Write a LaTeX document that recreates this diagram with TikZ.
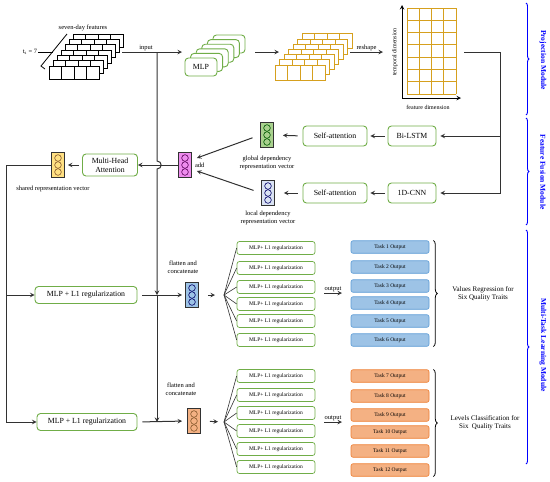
\documentclass[tikz,border=0pt]{standalone}
\usepackage{fontspec}
\setmainfont{Liberation Serif}
\usetikzlibrary{arrows, positioning, calc, decorations.pathreplacing}
\definecolor{mlpgreen}{RGB}{112,173,71}
\definecolor{gold}{RGB}{214,160,30}
\definecolor{taskblue}{RGB}{157,195,230}
\definecolor{taskblueline}{RGB}{91,155,213}
\definecolor{taskorange}{RGB}{244,177,131}
\definecolor{taskorangeline}{RGB}{237,125,49}
\definecolor{modblue}{RGB}{0,0,255}
\definecolor{linegray}{RGB}{50,50,50}
\definecolor{vgreen}{RGB}{169,209,142}
\definecolor{vlocal}{RGB}{218,227,243}
\definecolor{vadd}{RGB}{238,140,238}
\definecolor{vyellow}{RGB}{255,224,130}

\begin{document}
\begin{tikzpicture}[x=1pt,y=-1pt,
  gbox/.style={draw=mlpgreen,line width=0.9pt,rounded corners=3.5pt,fill=white,align=center,inner sep=1pt,font=\fontsize{7.8}{8.8}\selectfont},
  sbox/.style={draw=mlpgreen,line width=0.7pt,rounded corners=2.5pt,minimum width=78pt,minimum height=13pt,inner sep=0pt,font=\fontsize{5.5}{6}\selectfont},
  tbox/.style={draw=taskblueline,fill=taskblue,line width=0.6pt,rounded corners=2pt,minimum width=78pt,minimum height=12.5pt,inner sep=0pt,font=\fontsize{5.5}{6}\selectfont},
  obox/.style={tbox,draw=taskorangeline,fill=taskorange},
  vec/.style={draw=linegray,line width=0.8pt,minimum width=13pt,minimum height=25pt,inner sep=0pt},
  lbl/.style={font=\fontsize{6.5}{7.5}\selectfont,align=center,inner sep=1pt},
  conn/.style={draw=linegray,line width=1pt},
  arr/.style={conn,->,>=stealth},
  modbrace/.style={draw=modblue,line width=0.9pt,decorate,decoration={brace,amplitude=3pt}},
  modtext/.style={text=modblue,font=\fontsize{7.5}{9}\selectfont\bfseries,rotate=-90}
]
\useasboundingbox (0,0) rectangle (550,482);

% ---- projection module ----
\foreach \k in {6,5,...,0}{
  \draw[line width=0.8pt,fill=white] (49+4*\k,66-5.3*\k) rectangle ++(50,13);
  \foreach \c in {1,2,3} \draw[line width=0.8pt] (49+4*\k+12.5*\c,66-5.3*\k) -- ++(0,13);
}
\node[lbl] (seven) at (83,28) {seven-day features};
\node[lbl] (ts) at (30,52) {t\textsubscript{s} = 7};
\draw[line width=0.8pt] (45,69) -- (41,66) -- (67,34);
\draw[line width=0.8pt] (ts.east) -- (53,52);

\foreach \k in {5,4,...,1}
  \draw[draw=mlpgreen,line width=0.9pt,rounded corners=3.5pt,fill=white] (185+5.6*\k,58-4.6*\k) rectangle ++(32,18);
\node[gbox,minimum width=32pt,minimum height=18pt] (mlp) at (201,67) {MLP};

\foreach \k in {6,5,...,0}{
  \draw[gold,line width=0.8pt,fill=white] (275+4.5*\k,65-5.2*\k) rectangle ++(50,15);
  \foreach \c in {1,2,3} \draw[gold,line width=0.8pt] (275+4.5*\k+12.5*\c,65-5.2*\k) -- ++(0,15);
}

\foreach \c in {0,...,4} \draw[gold,line width=0.9pt] (407+12.25*\c,8) -- (407+12.25*\c,94);
\foreach \r in {0,...,7} \draw[gold,line width=0.9pt] (407,8+12.29*\r) -- (456,8+12.29*\r);
\coordinate (origin) at (402,98);
\draw[arr,draw=black] (origin) -- (402,5);
\draw[arr,draw=black] (origin) -- (461,98);
\node[lbl,rotate=90,font=\fontsize{6}{7}\selectfont] (tdim) at (395,52) {temporal dimension};
\node[lbl,font=\fontsize{6}{7}\selectfont] (fdim) at (428,107) {feature dimension};

\coordinate (featout) at (122,52);
\coordinate (tap) at (157,52);
\coordinate (mlpin) at (182,52);
\coordinate (mlpout) at (255,52);
\coordinate (yin) at (279,52);
\coordinate (yout) at (350,52);
\coordinate (gin) at (383,52);
\coordinate (gridout) at (464,52);
\coordinate (bus) at (500,52);
\draw[arr] (featout) -- node[lbl,above,pos=0.4] {input} (mlpin);
\draw[arr] (mlpout) -- (yin);
\draw[arr] (yout) -- node[lbl,above] {reshape} (gin);

% ---- feature fusion module ----
\node[gbox,minimum width=48pt,minimum height=20pt] (lstm) at (412,136) {Bi-LSTM};
\node[gbox,minimum width=48pt,minimum height=20pt] (cnn) at (412,193) {1D-CNN};
\node[gbox,minimum width=64pt,minimum height=20pt] (sa1) at (335,136) {Self-attention};
\node[gbox,minimum width=64pt,minimum height=20pt] (sa2) at (335,193) {Self-attention};
\node[vec,fill=vgreen] (gvec) at (267,135) {};
\node[vec,fill=vlocal] (lvec) at (268,193) {};
\node[vec,fill=vadd] (addv) at (185,165) {};
\node[gbox,minimum width=55pt,minimum height=22pt] (mha) at (110,165) {Multi-Head\\Attention};
\node[vec,fill=vyellow] (shv) at (58,165) {};
\node[lbl,right=2pt of addv] (addl) {add};
\node[lbl] (gl) at (267,163) {global dependency\\representation vector};
\node[lbl] (ll) at (268,218) {local dependency\\representation vector};
\node[lbl] (sl) at (53,189) {shared representation vector};

\draw[arr,shorten >=4pt] (gridout) -- (bus) |- (cnn.east);
\draw[arr,shorten >=4pt] (bus |- lstm.east) -- (lstm.east);
\draw[arr,shorten <=3pt,shorten >=3pt] (lstm.west) -- (sa1.east);
\draw[arr,shorten <=3pt,shorten >=3pt] (cnn.west) -- (sa2.east);
\draw[arr,shorten <=5pt,shorten >=9pt] (sa1.west) -- (gvec.east);
\draw[arr,shorten <=5pt,shorten >=9pt] (sa2.west) -- (lvec.east);
\draw[arr,shorten <=8pt] (gvec.west) -- ($(addv.east)+(5,-7)$);
\draw[arr,shorten <=8pt] (lvec.west) -- ($(addv.east)+(5,6)$);
\draw[arr] (addv.west) -- (mha.east);
\draw[arr,shorten <=3pt,shorten >=3pt] (mha.west) -- (shv.east);

\foreach \v/\c in {gvec/green!35!black,lvec/blue!40!black,addv/violet!70!black,shv/brown!70!black}
  \foreach \o in {-7,0,7} \draw[\c,line width=0.6pt] ($(\v.center)+(0,\o)$) circle (3.3pt);

% ---- multi-task learning module ----
\node[gbox,minimum width=102pt,minimum height=17pt] (mlp1) at (86,295) {MLP + L1 regularization};
\node[gbox,minimum width=100pt,minimum height=17pt] (mlp2) at (87,422) {MLP + L1 regularization};
\node[vec,fill=taskblue] (rvec) at (192,295) {};
\node[vec,fill=taskorange] (cvec) at (194,421) {};
\foreach \v/\c in {rvec/blue!40!black,cvec/brown!70!black}
  \foreach \o in {-7,0,7} \draw[\c,line width=0.6pt] ($(\v.center)+(0,\o)$) circle (3.3pt);
\node[lbl] (flat1) at (183,267) {flatten and\\concatenate};
\node[lbl] (flat2) at (181,389) {flatten and\\concatenate};

\coordinate (lbus) at (6,165);
\coordinate (j1) at (157,295);
\coordinate (j2) at (157,422);
\draw[conn] (shv.west) -- (lbus);
\draw[arr] (lbus) |- (mlp1.west);
\draw[arr] (lbus) |- (mlp2.west);
\draw[arr] (tap) -- (157,161) .. controls (162.5,161) and (162.5,169) .. (157,169) -- (j1);
\draw[arr] (j1) -- (j2);
\draw[arr,shorten <=5pt,shorten >=3pt] (mlp1.east) -- (rvec.west);
\draw[arr,shorten <=5pt,shorten >=5pt] (mlp2.east) -- (cvec.west);

\coordinate (fan1) at (224,295);
\coordinate (fan2) at (224,422);
\draw[arr,shorten <=9pt,shorten >=9pt] (rvec.east) -- (fan1);
\draw[arr,shorten <=9pt,shorten >=6pt] (cvec.east) -- (fan2);

\foreach \i/\y in {1/248,2/268,3/287,4/304,5/321,6/340}{
  \node[sbox] (r\i) at (276,\y) {MLP+ L1 regularization};
  \draw[conn,line width=0.6pt] (fan1) -- (r\i.west);
}
\foreach \i/\y in {1/376,2/395,3/413,4/431,5/449,6/467}{
  \node[sbox] (c\i) at (276,\y) {MLP+ L1 regularization};
  \draw[conn,line width=0.6pt] (fan2) -- (c\i.west);
}
\foreach \i/\y in {1/247,2/267,3/286,4/303,5/321,6/340}
  \node[tbox] (t\i) at (390,\y) {Task \i\ Output};
\foreach \i/\y in {7/376,8/396,9/415,10/432,11/451,12/470}
  \node[obox] (t\i) at (390,\y) {Task \i\ Output};

\coordinate (o1a) at (324,293);
\coordinate (o1b) at (342,293);
\coordinate (o2a) at (324,422);
\coordinate (o2b) at (342,422);
\draw[arr] (o1a) -- node[lbl,above] {output} (o1b);
\draw[arr] (o2a) -- node[lbl,above] {output} (o2b);

\draw[line width=0.8pt,decorate,decoration={brace,amplitude=4pt}] ($(t1.north east)+(4,0)$) -- ($(t6.south east)+(4,0)$);
\draw[line width=0.8pt,decorate,decoration={brace,amplitude=4pt}] ($(t7.north east)+(4,0)$) -- ($(t12.south east)+(4,0)$);
\node[lbl,font=\fontsize{7}{8.5}\selectfont] (reg) at (483,294) {Values Regression for\\Six Quality Traits};
\node[lbl,font=\fontsize{7}{8.5}\selectfont] (cls) at (485,423) {Levels Classification for\\Six \ Quality Traits};

% ---- module braces ----
\draw[modbrace] (526,3) -- (526,115);
\draw[modbrace] (526,118) -- (526,225);
\draw[modbrace] (526,230) -- (526,464);
\node[modtext] (pm) at (543,60) {Projection Module};
\node[modtext] (ffm) at (543,172) {Feature Fusion Module};
\node[modtext] (mtl) at (543,345) {Multi-Task Learning Module};
\end{tikzpicture}
\end{document}
